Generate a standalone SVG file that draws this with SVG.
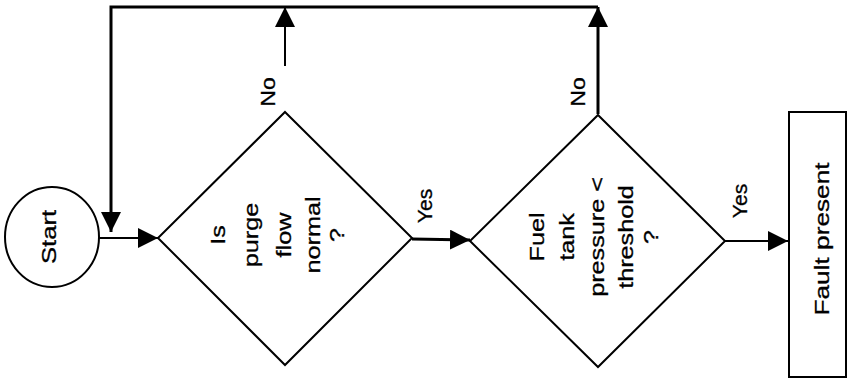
<svg xmlns="http://www.w3.org/2000/svg" width="849" height="383" viewBox="0 0 849 383">
<defs>
<marker id="ah" markerUnits="userSpaceOnUse" markerWidth="20" markerHeight="20" refX="20" refY="10" orient="auto" viewBox="0 0 20 20">
<path d="M0,0 L20,10 L0,20 z" fill="#000"/>
</marker>
<style>
.shape{fill:#fff;stroke:#000;stroke-width:2}
.ln{fill:none;stroke:#000;stroke-width:2}
.thick{fill:none;stroke:#000;stroke-width:3}
text{font-family:"Liberation Sans",Arial,sans-serif;font-size:21px;fill:#000;stroke:#000;stroke-width:0.3}
</style>
</defs>
<rect width="849" height="383" fill="#fff"/>
<g id="connectors">
<polyline class="thick" points="598,7 111,7 111,232" marker-end="url(#ah)"/>
<line class="ln" x1="99" y1="238" x2="158" y2="238" marker-end="url(#ah)"/>
<line class="ln" x1="285" y1="66" x2="285" y2="7" marker-end="url(#ah)"/>
<line class="thick" x1="412" y1="239" x2="470" y2="240" marker-end="url(#ah)"/>
<line class="thick" x1="598" y1="114" x2="598" y2="7" marker-end="url(#ah)"/>
<line class="ln" x1="725" y1="241" x2="788" y2="241" marker-end="url(#ah)"/>
<text transform="translate(275,92) rotate(-90) scale(1.1,1)" text-anchor="middle">No</text>
<text transform="translate(585,92) rotate(-90) scale(1.1,1)" text-anchor="middle">No</text>
<text transform="translate(432,206) rotate(-90)" text-anchor="middle">Yes</text>
<text transform="translate(747,201) rotate(-90)" text-anchor="middle">Yes</text>
</g>
<g id="start">
<ellipse class="shape" cx="52" cy="237" rx="47" ry="50"/>
<text transform="translate(56,237) rotate(-90) scale(1.22,1)" text-anchor="middle">Start</text>
</g>
<g id="purge">
<polygon class="shape" points="285,112 412,238 285,365 158,238"/>
<g transform="translate(0,235)">
<text transform="translate(225,0) rotate(-90) scale(1.2,1)" text-anchor="middle">Is</text>
<text transform="translate(258,0) rotate(-90) scale(1.2,1)" text-anchor="middle">purge</text>
<text transform="translate(291,0) rotate(-90) scale(1.2,1)" text-anchor="middle">flow</text>
<text transform="translate(320,0) rotate(-90) scale(1.2,1)" text-anchor="middle">normal</text>
<text transform="translate(344,0) rotate(-90) scale(1.2,1)" text-anchor="middle">?</text>
</g>
</g>
<g id="pressure">
<polygon class="shape" points="598,115 725,241 598,367 470,241"/>
<g transform="translate(0,237)">
<text transform="translate(544,0) rotate(-90) scale(1.2,1)" text-anchor="middle">Fuel</text>
<text transform="translate(574,0) rotate(-90) scale(1.2,1)" text-anchor="middle">tank</text>
<text transform="translate(604,0) rotate(-90) scale(1.2,1)" text-anchor="middle">pressure &lt;</text>
<text transform="translate(633,0) rotate(-90) scale(1.2,1)" text-anchor="middle">threshold</text>
<text transform="translate(658,0) rotate(-90) scale(1.2,1)" text-anchor="middle">?</text>
</g>
</g>
<g id="fault">
<rect class="shape" x="789" y="112" width="57" height="265"/>
<text transform="translate(829,239) rotate(-90) scale(1.25,1)" text-anchor="middle">Fault present</text>
</g>
</svg>
